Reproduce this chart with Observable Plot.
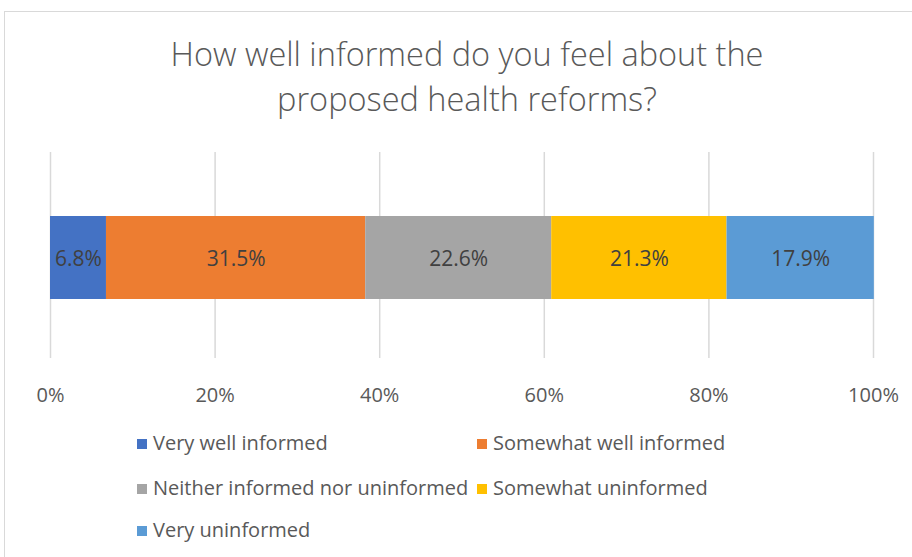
<!DOCTYPE html>
<html>
<head>
<meta charset="utf-8">
<script src="https://cdn.jsdelivr.net/npm/d3@7"></script>
<script src="https://cdn.jsdelivr.net/npm/@observablehq/plot@0.6"></script>
<style>
  html, body { margin: 0; padding: 0; background: #fff; }
  #wrap { position: relative; width: 912px; height: 557px; overflow: hidden; font-family: "Open Sans", sans-serif; color: #595959; }
  #frame { position: absolute; left: 4px; top: 11px; width: 1000px; height: 1000px; border: 1.5px solid #D9D9D9; box-sizing: border-box; }
  .title { position: absolute; left: 0; width: 934px; text-align: center; font-size: 32.5px; font-weight: 300; color: #595959; white-space: nowrap; line-height: 40px; }
  #plot { position: absolute; left: 0; top: 140px; }
  .leg { position: absolute; font-size: 20px; color: #595959; white-space: nowrap; line-height: 22px; }
  .sw { display: inline-block; width: 10px; height: 10px; margin-right: 6px; vertical-align: 1px; }
</style>
</head>
<body>
<div id="wrap">
  <div id="frame"></div>
  <div class="title" style="top:34px">How well informed do you feel about the</div>
  <div class="title" style="top:79px">proposed health reforms?</div>
  <div id="plot"></div>
  <div id="legend"></div>
</div>
<script>
const categories = ["Very well informed", "Somewhat well informed", "Neither informed nor uninformed", "Somewhat uninformed", "Very uninformed"];
const values = [6.8, 31.5, 22.6, 21.3, 17.9];
const colors = ["#4472C4", "#ED7D31", "#A5A5A5", "#FFC000", "#5B9BD5"];
const tickValues = [0, 20, 40, 60, 80, 100];
const tickLabels = ["0%", "20%", "40%", "60%", "80%", "100%"];

const data = categories.map((c, i) => ({category: c, value: values[i], row: "Q"}));
const fontFam = '"Open Sans", sans-serif';

const chart = Plot.plot({
  width: 912,
  height: 270,
  marginLeft: 50,
  marginRight: 39,
  marginTop: 12,
  marginBottom: 52,
  style: {fontFamily: fontFam, fontSize: "20px", color: "#595959", background: "transparent"},
  x: {domain: [0, 100], ticks: tickValues, tickFormat: (d) => tickLabels[tickValues.indexOf(d)], label: null},
  y: {domain: ["Q"], padding: 0.4207, align: 0.52, axis: null},
  color: {domain: categories, range: colors},
  marks: [
    Plot.gridX(tickValues, {stroke: "#D9D9D9", strokeOpacity: 1, strokeWidth: 1.5}),
    Plot.axisX(tickValues, {tickSize: 0, tickPadding: 29, fontSize: 20, fill: "#595959", label: null, tickFormat: (d) => tickLabels[tickValues.indexOf(d)]}),
    Plot.barX(data, Plot.stackX({x: "value", y: "row", fill: "category", order: null, inset: 0})),
    Plot.text(data, Plot.stackX({x: "value", y: "row", order: null, text: (d) => d.value.toFixed(1) + "%", fill: "#404040", fontSize: 21, dy: 1}))
  ]
});
document.getElementById("plot").appendChild(chart);

const legendPos = [[137, 443], [477, 443], [137, 488], [477, 488], [137, 530]];
const legend = document.getElementById("legend");
categories.forEach((c, i) => {
  const el = document.createElement("div");
  el.className = "leg";
  el.style.left = legendPos[i][0] + "px";
  el.style.top = (legendPos[i][1] - 11) + "px";
  el.innerHTML = `<span class="sw" style="background:${colors[i]}"></span>${c}`;
  legend.appendChild(el);
});
</script>
</body>
</html>
